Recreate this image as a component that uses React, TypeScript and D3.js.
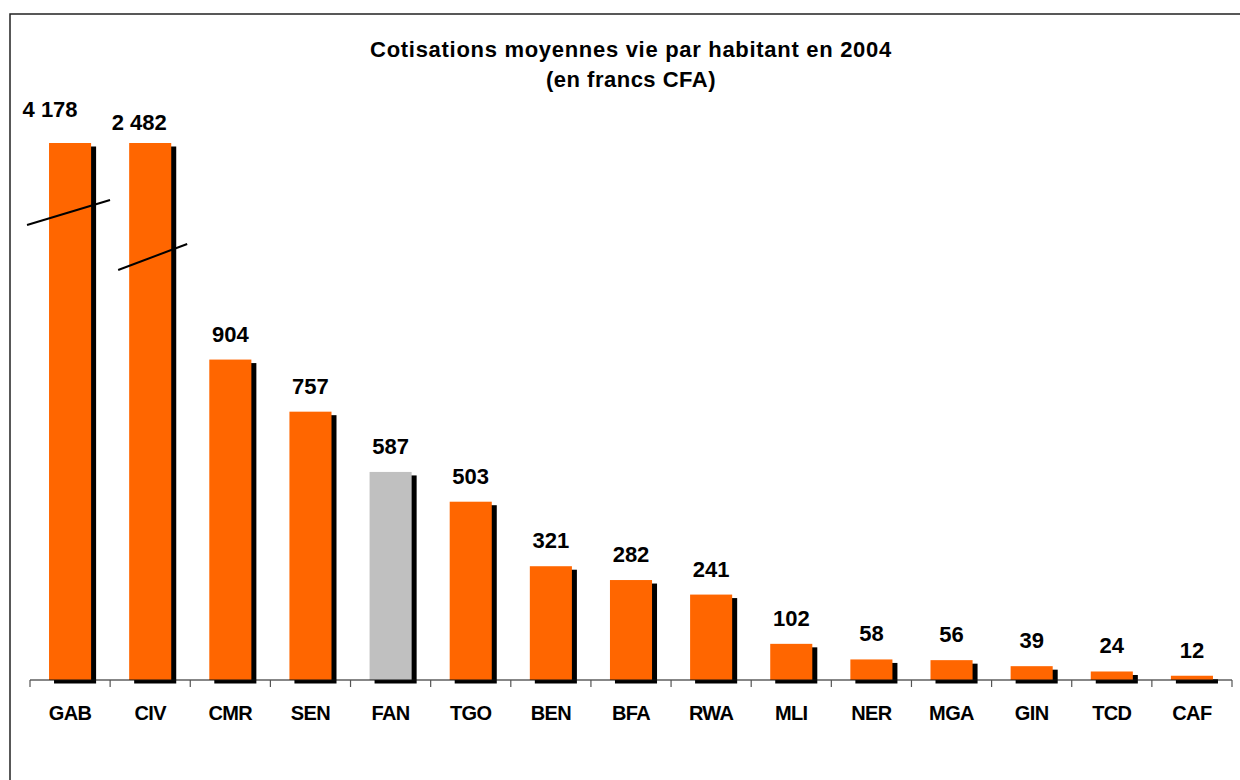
import React from "react";
import * as d3 from "d3";

const categories = ["GAB", "CIV", "CMR", "SEN", "FAN", "TGO", "BEN", "BFA", "RWA", "MLI", "NER", "MGA", "GIN", "TCD", "CAF"];
const values = [4178, 2482, 904, 757, 587, 503, 321, 282, 241, 102, 58, 56, 39, 24, 12];
const highlighted = ["FAN"];
const titleLines = ["Cotisations moyennes vie par habitant en 2004", "(en francs CFA)"];

const W = 1240;
const H = 780;
const plotLeft = 30;
const plotRight = 1232;
const axisY = 680;
const capTopY = 143;
const displayCap = 1515;

const fmt = d3.formatLocale({ decimal: ",", thousands: " ", grouping: [3], currency: ["", ""] }).format(",d");

// manual nudges for labels of broken bars (dx, baseline offset above bar top)
const labelNudge: Record<string, [number, number]> = { GAB: [-20, 26], CIV: [-11, 13] };
// break marks: [x offset start, y start, x offset end, y end] relative to bar left
const breakMarks: Record<string, [number, number, number, number]> = {
  GAB: [-22, 225, 61, 200],
  CIV: [-11, 270, 58, 244],
};

export default function App() {
  const x = d3.scaleBand<string>().domain(categories).range([plotLeft, plotRight]).paddingInner(0.475).paddingOuter(0.2375);
  const y = d3.scaleLinear().domain([0, displayCap]).range([axisY, capTopY]);
  const bw = x.bandwidth();
  const tickXs = d3.range(categories.length + 1).map((i) => plotLeft + i * ((plotRight - plotLeft) / categories.length));
  const font = "'Liberation Sans', Arial, sans-serif";
  const cx = (plotLeft + plotRight) / 2;

  return (
    <svg width={W} height={H} style={{ position: "absolute", left: 0, top: 0, background: "#fff" }} fontFamily={font}>
      <rect x={10} y={14} width={W + 10} height={H + 10} fill="#fff" stroke="#222" strokeWidth={1.5} />
      <text x={cx} y={57} textAnchor="middle" fontSize={22} fontWeight="bold" letterSpacing={0.7}>{titleLines[0]}</text>
      <text x={cx} y={87} textAnchor="middle" fontSize={22} fontWeight="bold" letterSpacing={0.5}>{titleLines[1]}</text>
      {categories.map((c, i) => {
        const v = values[i];
        const top = y(Math.min(v, displayCap));
        const bx = x(c)!;
        return (
          <g key={c}>
            <rect x={bx + 5} y={top + 3.5} width={bw} height={axisY - top} fill="#000" />
            <rect x={bx} y={top} width={bw} height={axisY - top} fill={highlighted.includes(c) ? "#C0C0C0" : "#FF6600"} />
          </g>
        );
      })}
      <line x1={plotLeft} x2={plotRight} y1={axisY} y2={axisY} stroke="#111" strokeWidth={1.2} />
      {tickXs.map((t, i) => (
        <line key={i} x1={t} x2={t} y1={axisY} y2={axisY + 7} stroke="#555" strokeWidth={1.2} />
      ))}
      {categories.map((c, i) => {
        const v = values[i];
        const top = y(Math.min(v, displayCap));
        const center = x(c)! + bw / 2;
        const nudge = labelNudge[c] || [0, 18];
        return (
          <text key={c} x={center + nudge[0]} y={top - nudge[1]} textAnchor="middle" fontSize={22} fontWeight="bold">{fmt(v)}</text>
        );
      })}
      {categories.map((c) => {
        const m = breakMarks[c];
        if (!m) return null;
        const bx = x(c)!;
        return <line key={c} x1={bx + m[0]} y1={m[1]} x2={bx + m[2]} y2={m[3]} stroke="#000" strokeWidth={2} />;
      })}
      {categories.map((c) => (
        <text key={c} x={x(c)! + bw / 2} y={720} textAnchor="middle" fontSize={20} fontWeight="bold" letterSpacing={-0.6}>{c}</text>
      ))}
    </svg>
  );
}
